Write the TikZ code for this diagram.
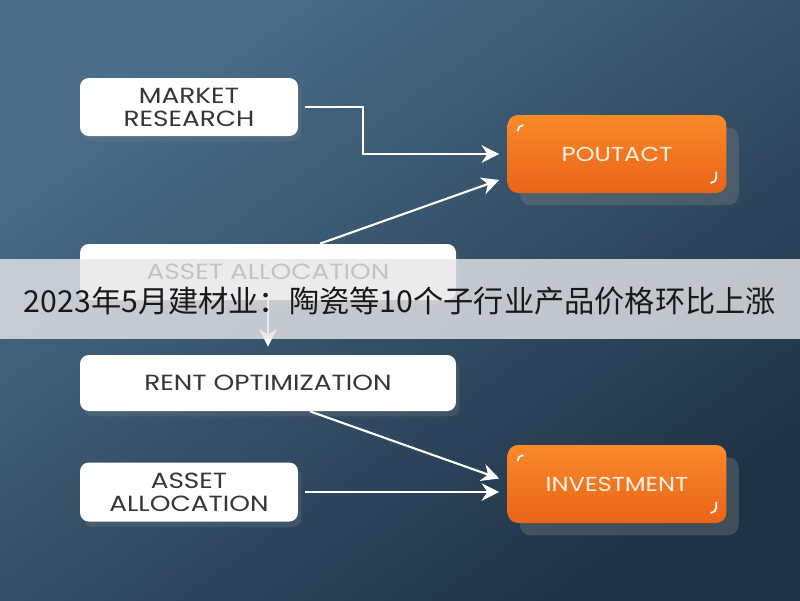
\documentclass[tikz,border=0pt]{standalone}
\usepackage{fontspec}
\setmainfont{Poppins}
\newfontfamily\boxfont[FakeStretch=1.2]{Poppins}
\newfontfamily\cjk{Noto Sans CJK SC}
\usetikzlibrary{arrows.meta,positioning,shadows}
\definecolor{bgl}{HTML}{4A6E8A}
\definecolor{bgr}{HTML}{1F3346}
\definecolor{orgl}{HTML}{F88A2A}
\definecolor{orgd}{HTML}{EA6418}
\definecolor{txt}{HTML}{363636}
\definecolor{band}{HTML}{E6E7E8}
\newcommand{\orgmarks}[1]{%
  \draw[white,line width=1pt,line cap=round] ([shift={(6pt,-9pt)}]#1.north west) arc[start angle=180,end angle=90,radius=3pt];
  \draw[white,line width=1pt,line cap=round] ([shift={(-6pt,12pt)}]#1.south east) -- ++(0,-3pt) arc[start angle=0,end angle=-90,radius=3pt];}
\tikzset{
  wbox/.style={fill=white,rounded corners=5pt,align=center,text=txt,inner sep=2pt,
    font=\boxfont\fontsize{12.5}{13}\selectfont,drop shadow={shadow xshift=2pt,shadow yshift=-3pt,opacity=.25}},
  obox/.style={top color=orgl,bottom color=orgd,rounded corners=6pt,align=center,text=white!90!orange,
    minimum width=4.38cm,minimum height=1.56cm,font=\boxfont\fontsize{11.5}{13}\selectfont,
    drop shadow={shadow xshift=7pt,shadow yshift=-7pt,opacity=.35}},
  ar/.style={-{Stealth[length=10pt,width=10pt]},line width=1.2pt,draw=white},
}
\begin{document}
\begin{tikzpicture}[x=0.02cm,y=0.02cm]
  \shade[top color=bgl,bottom color=bgr,shading angle=35] (0,0) rectangle (800,-600);
  \useasboundingbox (0,0) rectangle (800,-600);
  % left column
  \node[wbox,minimum width=4.36cm,minimum height=1.16cm] (mr) at (189,-107) {MARKET\\RESEARCH};
  \node[wbox,minimum width=7.52cm,minimum height=1.12cm] (aa1) at (268,-272) {ASSET ALLOCATION};
  \node[wbox,minimum width=7.52cm,minimum height=1.12cm] (rent) at (268,-383) {RENT OPTIMIZATION};
  \node[wbox,minimum width=4.36cm,minimum height=1.18cm] (aa2) at (189,-492) {ASSET\\ALLOCATION};
  % right column
  \node[obox] (pout) at (617,-154) {POUTACT};
  \node[obox] (inv) at (617,-484) {INVESTMENT};
  \orgmarks{pout}
  \orgmarks{inv}
  % arrows
  \draw[ar] ([xshift=1.4mm]mr.east) -- ++(58,0) |- ([xshift=-1.6mm]pout.west);
  \draw[ar] ([xshift=1.04cm]aa1.north) -- ([xshift=-1.6mm,yshift=-0.52cm]pout.west);
  \draw[ar] (aa1.south) -- ([yshift=1.6mm]rent.north);
  \draw[ar] ([xshift=0.84cm]rent.south) -- ([xshift=-1.6mm,yshift=0.11cm]inv.west);
  \draw[ar,shorten >=1.6mm] ([xshift=1.4mm]aa2.east) -- (inv.west |- aa2.east);
  % caption band
  \fill[band,fill opacity=0.8] (0,-259) rectangle (800,-339);
  \node[font=\cjk\fontsize{17.2}{20}\selectfont,text=black!90] (ttl) at (400,-301)
    {2023年5月建材业：陶瓷等10个子行业产品价格环比上涨};
\end{tikzpicture}
\end{document}
